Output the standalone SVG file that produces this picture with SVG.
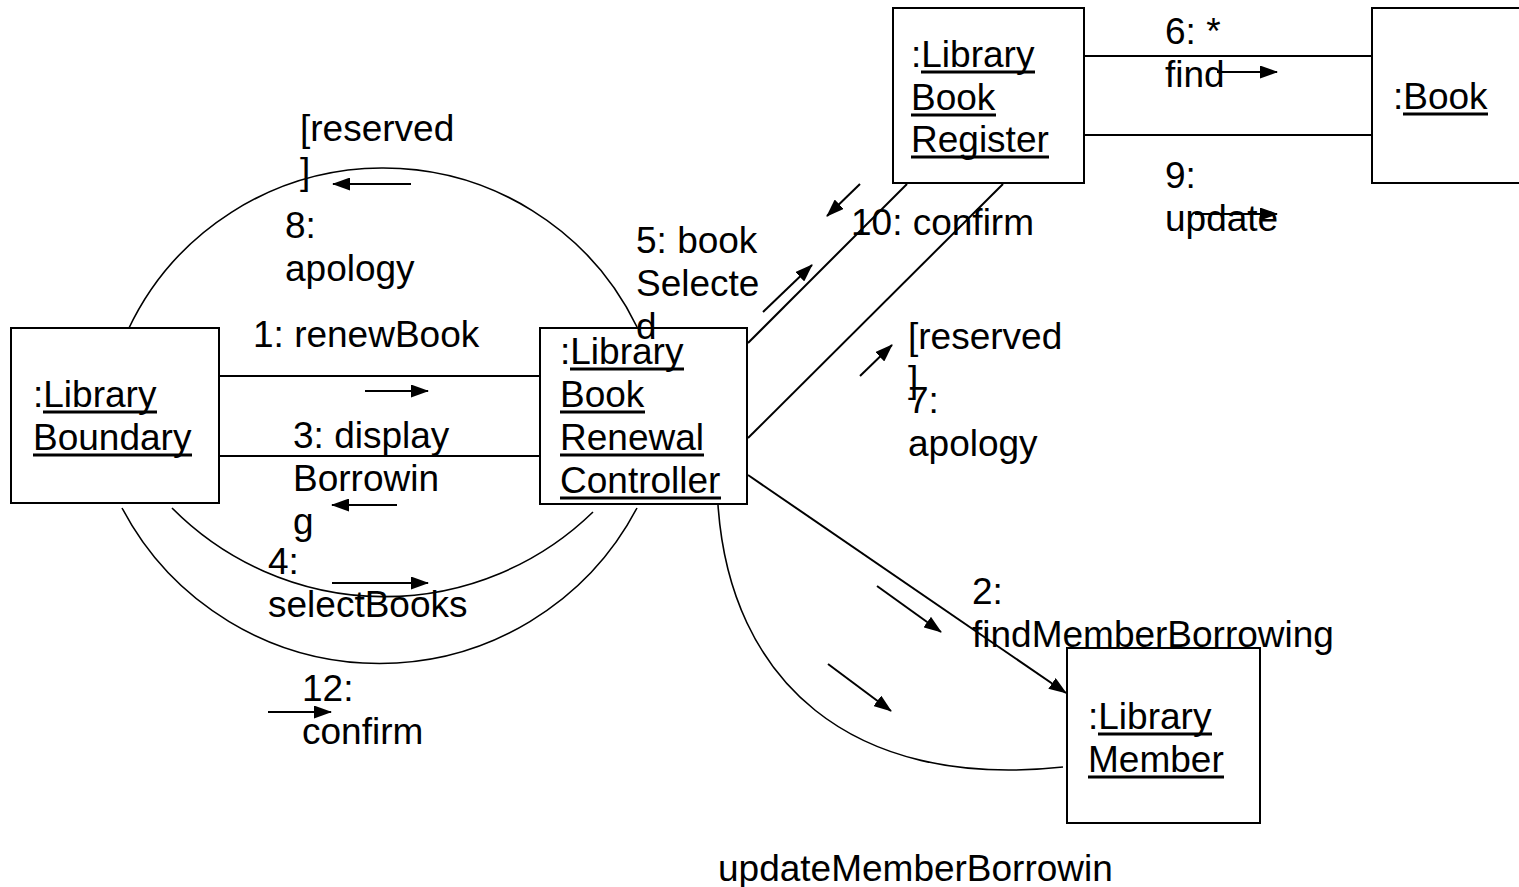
<svg xmlns="http://www.w3.org/2000/svg" width="1519" height="887" viewBox="0 0 1519 887">
  <style>
    .box { fill: #fff; stroke: #000; stroke-width: 2; }
    .ln { fill: none; stroke: #000; stroke-width: 2; }
    .arc { fill: none; stroke: #000; stroke-width: 1.6; }
    .msg { fill: none; stroke: #000; stroke-width: 2; marker-end: url(#head); }
    .ul { fill: none; stroke: #000; stroke-width: 2.8; }
    .t { font-family: "Liberation Sans", Arial, sans-serif; font-size: 37px; fill: #000; }
  </style>
  <defs>
    <marker id="head" markerUnits="userSpaceOnUse" markerWidth="18" markerHeight="13" refX="17" refY="6.5" orient="auto">
      <path d="M0,0 L18,6.5 L0,13 z" fill="#000"/>
    </marker>
  </defs>

  <rect width="1519" height="887" fill="#fff"/>

  <!-- links between objects, curved links and message arrows -->
  <g id="connectors">
    <!-- Boundary <-> Controller -->
    <line class="ln" x1="219" y1="376" x2="540" y2="376"/>
    <line class="ln" x1="219" y1="456" x2="540" y2="456"/>
    <path class="arc" d="M128,330 A282,282 0 0 1 637,327"/>
    <path class="arc" d="M172,508 A299,299 0 0 0 593,512"/>
    <path class="arc" d="M122,508 A291,291 0 0 0 637,508"/>
    <!-- Controller <-> Register -->
    <line class="ln" x1="748" y1="343" x2="907" y2="184"/>
    <line class="ln" x1="748" y1="438" x2="1003" y2="184"/>
    <!-- Register <-> Book -->
    <line class="ln" x1="1084" y1="56" x2="1372" y2="56"/>
    <line class="ln" x1="1084" y1="135" x2="1372" y2="135"/>
    <!-- Controller <-> Member -->
    <line class="msg" x1="748" y1="475" x2="1066" y2="693"/>
    <path class="arc" d="M718,505 C730,680 850,790 1063,767"/>

    <!-- message direction arrows -->
    <line class="msg" x1="365" y1="391" x2="428" y2="391"/>
    <line class="msg" x1="397" y1="505" x2="332" y2="505"/>
    <line class="msg" x1="332" y1="583" x2="428" y2="583"/>
    <line class="msg" x1="268" y1="712" x2="331" y2="712"/>
    <line class="msg" x1="411" y1="184" x2="333" y2="184"/>
    <line class="msg" x1="763" y1="312" x2="812" y2="265"/>
    <line class="msg" x1="860" y1="184" x2="827" y2="216"/>
    <line class="msg" x1="860" y1="376" x2="892" y2="345"/>
    <line class="msg" x1="1217" y1="72" x2="1277" y2="72"/>
    <line class="msg" x1="1195" y1="214" x2="1277" y2="214"/>
    <line class="msg" x1="877" y1="586" x2="941" y2="632"/>
    <line class="msg" x1="828" y1="664" x2="891" y2="711"/>
  </g>

  <!-- objects: name text with underlined class names -->
  <g id="libraryBoundary">
    <rect class="box" x="11" y="328" width="208" height="175"/>
    <text class="t"><tspan x="33" y="407">:Library</tspan><tspan x="33" y="450">Boundary</tspan></text>
    <path class="ul" d="M43,412H157M33,455H192"/>
  </g>
  <g id="renewalController">
    <rect class="box" x="540" y="328" width="207" height="176"/>
    <text class="t"><tspan x="560" y="364">:Library</tspan><tspan x="560" y="407">Book</tspan><tspan x="560" y="450">Renewal</tspan><tspan x="560" y="493">Controller</tspan></text>
    <path class="ul" d="M570,369H684M560,412H645M560,455H704M560,498H721"/>
  </g>
  <g id="bookRegister">
    <rect class="box" x="893" y="8" width="191" height="175"/>
    <text class="t"><tspan x="911" y="67">:Library</tspan><tspan x="911" y="110">Book</tspan><tspan x="911" y="152">Register</tspan></text>
    <path class="ul" d="M921,72H1035M911,115H996M911,157H1049"/>
  </g>
  <g id="book">
    <rect class="box" x="1372" y="8" width="160" height="175"/>
    <text class="t"><tspan x="1393" y="109">:Book</tspan></text>
    <path class="ul" d="M1403,114H1488"/>
  </g>
  <g id="libraryMember">
    <rect class="box" x="1067" y="648" width="193" height="175"/>
    <text class="t"><tspan x="1088" y="729">:Library</tspan><tspan x="1088" y="772">Member</tspan></text>
    <path class="ul" d="M1098,734H1212M1088,777H1224"/>
  </g>

  <!-- message labels -->
  <g id="labels">
    <text class="t"><tspan x="253" y="347">1: renewBook</tspan></text>
    <text class="t"><tspan x="972" y="604">2:</tspan><tspan x="972" y="647">findMemberBorrowing</tspan></text>
    <text class="t"><tspan x="293" y="448">3: display</tspan><tspan x="293" y="491">Borrowin</tspan><tspan x="293" y="534">g</tspan></text>
    <text class="t"><tspan x="268" y="574">4:</tspan><tspan x="268" y="617">selectBooks</tspan></text>
    <text class="t"><tspan x="636" y="253">5: book</tspan><tspan x="636" y="296">Selecte</tspan><tspan x="636" y="339">d</tspan></text>
    <text class="t"><tspan x="1165" y="44">6: *</tspan><tspan x="1165" y="87">find</tspan></text>
    <text class="t"><tspan x="908" y="349">[reserved</tspan><tspan x="908" y="392">]</tspan></text>
    <text class="t"><tspan x="908" y="413">7:</tspan><tspan x="908" y="456">apology</tspan></text>
    <text class="t"><tspan x="300" y="141">[reserved</tspan><tspan x="300" y="184">]</tspan></text>
    <text class="t"><tspan x="285" y="238">8:</tspan><tspan x="285" y="281">apology</tspan></text>
    <text class="t"><tspan x="1165" y="188">9:</tspan><tspan x="1165" y="231">update</tspan></text>
    <text class="t"><tspan x="851" y="235">10: confirm</tspan></text>
    <text class="t"><tspan x="718" y="881">updateMemberBorrowin</tspan></text>
    <text class="t"><tspan x="302" y="701">12:</tspan><tspan x="302" y="744">confirm</tspan></text>
  </g>
</svg>
